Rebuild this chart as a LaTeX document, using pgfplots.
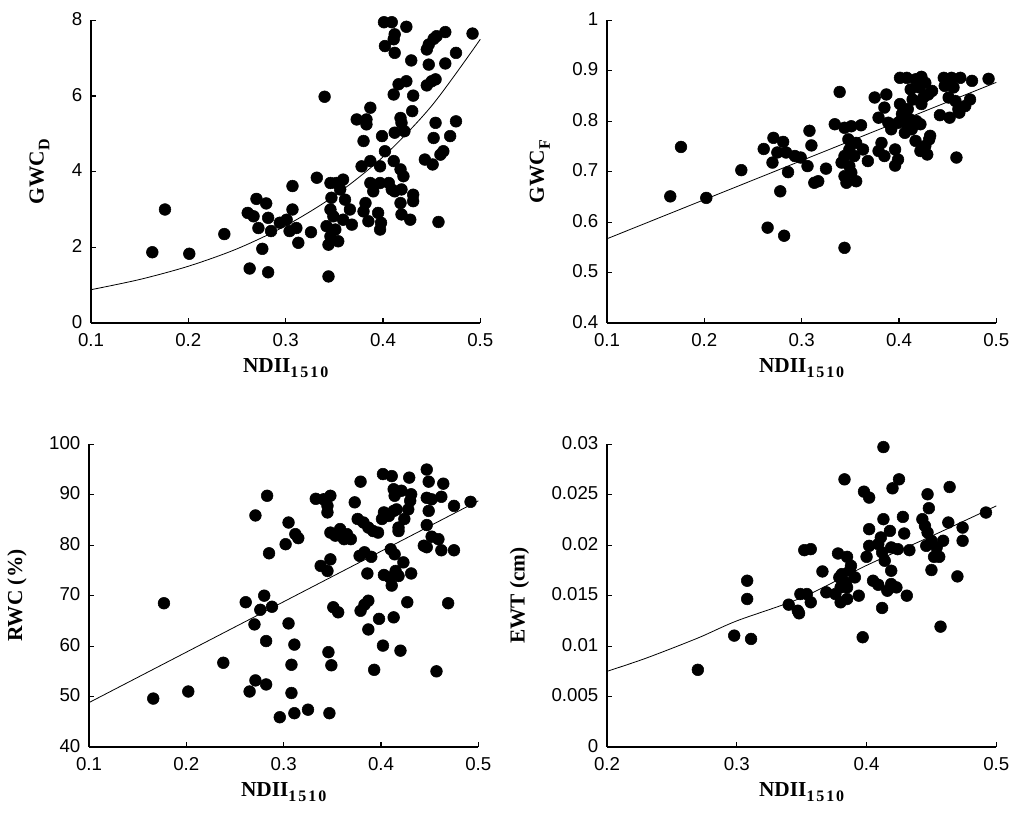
\documentclass[border=0pt]{standalone}
\usepackage{fontspec}
\setmainfont{Liberation Serif}
\setsansfont{Liberation Sans}
\usepackage{pgfplots}
\pgfplotsset{compat=1.18}

\newcommand{\sub}[1]{\raisebox{-0.6ex}{\fontsize{12}{12}\selectfont\bfseries\addfontfeature{LetterSpace=12}#1}}

\pgfplotsset{
  panel/.style={
    scale only axis, width=292pt, height=227pt,
    anchor=south west, clip=false,
    axis x line*=bottom, axis y line*=left,
    axis line style={-, line width=0.9pt},
    tick align=inside, major tick length=4pt,
    every tick/.style={black, line width=0.9pt},
    scaled ticks=false,
    ticklabel style={font=\sffamily\fontsize{14}{14}\selectfont},
    xticklabel style={yshift=-4pt},
    yticklabel style={xshift=-3pt, yshift=1pt},
    label style={font=\bfseries\fontsize{16}{16}\selectfont},
    xlabel={NDII\sub{1510}},
    xlabel style={yshift=-2pt},
    ylabel style={yshift=10pt},
  },
  dots/.style={only marks, mark=*, mark size=4.4pt, black},
  fit/.style={black, line width=0.6pt, smooth, no marks},
}

\begin{document}
\begin{tikzpicture}
\path[use as bounding box] (0,0) rectangle (768pt,625.5pt);

% GWC_D
\begin{axis}[panel, at={(68.25pt,383.25pt)},
  xmin=0.1, xmax=0.5, ymin=0, ymax=8,
  xtick={0.1,0.2,0.3,0.4,0.5}, xticklabels={0.1,0.2,0.3,0.4,0.5},
  ytick={0,2,4,6,8}, yticklabels={0,2,4,6,8},
  ylabel={GWC\sub{D}}]
\addplot[dots] coordinates {
(0.163,1.87) (0.176,3.00) (0.201,1.83) (0.237,2.35) (0.261,2.91) (0.263,1.44)
(0.270,3.28) (0.267,2.82) (0.272,2.51) (0.276,1.96) (0.280,3.16) (0.282,2.78)
(0.282,1.34) (0.285,2.43) (0.307,3.62) (0.307,3.00) (0.294,2.65) (0.301,2.73)
(0.304,2.43) (0.311,2.51) (0.313,2.12) (0.326,2.40) (0.332,3.84) (0.340,5.98)
(0.344,1.23) (0.346,3.70) (0.352,3.70) (0.359,3.79) (0.356,3.53) (0.347,3.31)
(0.361,3.26) (0.346,3.00) (0.349,2.82) (0.342,2.56) (0.351,2.47) (0.346,2.29)
(0.354,2.16) (0.344,2.07) (0.366,3.00) (0.368,2.60) (0.359,2.73) (0.373,5.38)
(0.383,5.38) (0.383,5.25) (0.387,5.69) (0.380,4.81) (0.378,4.14) (0.387,4.28)
(0.382,3.17) (0.380,2.95) (0.385,2.69) (0.387,3.70) (0.390,3.48) (0.395,2.91)
(0.398,2.65) (0.397,2.47) (0.397,4.14) (0.399,4.94) (0.402,4.54) (0.397,3.70)
(0.406,3.70) (0.409,3.53) (0.412,3.48) (0.419,3.53) (0.418,3.17) (0.419,2.87)
(0.428,2.73) (0.431,3.39) (0.431,3.22) (0.411,4.28) (0.418,4.06) (0.421,3.88)
(0.412,5.03) (0.422,5.07) (0.418,5.42) (0.419,5.29) (0.430,5.60) (0.431,6.01)
(0.411,6.04) (0.416,6.31) (0.424,6.39) (0.402,7.32) (0.412,7.14) (0.412,7.63)
(0.411,7.50) (0.401,7.95) (0.409,7.95) (0.424,7.83) (0.429,6.94) (0.445,7.23)
(0.447,7.36) (0.452,7.51) (0.455,7.58) (0.464,7.69) (0.447,6.83) (0.464,6.86)
(0.475,7.14) (0.492,7.65) (0.445,6.28) (0.450,6.39) (0.454,6.44) (0.454,5.29)
(0.452,4.89) (0.475,5.33) (0.469,4.94) (0.462,4.54) (0.459,4.45) (0.443,4.32)
(0.451,4.19) (0.457,2.67)
};
\addplot[fit] coordinates {
(0.10,0.88) (0.15,1.15) (0.20,1.50) (0.25,1.96) (0.30,2.57) (0.35,3.36)
(0.40,4.39) (0.45,5.74) (0.50,7.50)
};
\end{axis}

% GWC_F
\begin{axis}[panel, at={(455.25pt,383.25pt)},
  xmin=0.1, xmax=0.5, ymin=0.4, ymax=1,
  xtick={0.1,0.2,0.3,0.4,0.5}, xticklabels={0.1,0.2,0.3,0.4,0.5},
  ytick={0.4,0.5,0.6,0.7,0.8,0.9,1}, yticklabels={0.4,0.5,0.6,0.7,0.8,0.9,1},
  ylabel={GWC\sub{F}}]
\addplot[dots] coordinates {
(0.165,0.651) (0.176,0.749) (0.202,0.648) (0.238,0.703) (0.261,0.745) (0.265,0.589)
(0.271,0.767) (0.281,0.759) (0.270,0.718) (0.278,0.661) (0.282,0.573) (0.275,0.738)
(0.284,0.738) (0.286,0.699) (0.293,0.731) (0.299,0.728) (0.308,0.781) (0.310,0.752)
(0.306,0.711) (0.313,0.678) (0.317,0.681) (0.325,0.706) (0.334,0.794) (0.339,0.858)
(0.344,0.549) (0.344,0.787) (0.351,0.790) (0.361,0.792) (0.348,0.764) (0.356,0.757)
(0.349,0.744) (0.363,0.744) (0.344,0.731) (0.354,0.731) (0.368,0.721) (0.341,0.718)
(0.349,0.711) (0.351,0.698) (0.346,0.678) (0.356,0.681) (0.344,0.691) (0.375,0.847)
(0.387,0.853) (0.379,0.807) (0.385,0.827) (0.389,0.797) (0.382,0.757) (0.379,0.741)
(0.385,0.731) (0.396,0.744) (0.399,0.724) (0.396,0.712) (0.392,0.784) (0.399,0.797)
(0.401,0.834) (0.403,0.814) (0.408,0.794) (0.406,0.777) (0.413,0.784) (0.411,0.804)
(0.418,0.800) (0.422,0.794) (0.417,0.761) (0.427,0.751) (0.422,0.741) (0.429,0.734)
(0.432,0.771) (0.431,0.764) (0.401,0.886) (0.408,0.886) (0.417,0.883) (0.423,0.888)
(0.412,0.863) (0.421,0.867) (0.427,0.876) (0.434,0.860) (0.414,0.843) (0.425,0.847)
(0.430,0.853) (0.423,0.834) (0.409,0.824) (0.446,0.886) (0.454,0.886) (0.463,0.886)
(0.475,0.880) (0.492,0.884) (0.447,0.870) (0.456,0.867) (0.451,0.847) (0.458,0.840)
(0.473,0.843) (0.468,0.830) (0.461,0.824) (0.442,0.812) (0.452,0.807) (0.462,0.817)
(0.459,0.728)
};
\addplot[fit] coordinates {(0.1,0.567) (0.5,0.877)};
\end{axis}

% RWC
\begin{axis}[panel, at={(66.75pt,65.25pt)},
  xmin=0.1, xmax=0.5, ymin=40, ymax=100,
  xtick={0.1,0.2,0.3,0.4,0.5}, xticklabels={0.1,0.2,0.3,0.4,0.5},
  ytick={40,50,60,70,80,90,100}, yticklabels={40,50,60,70,80,90,100},
  ylabel={RWC (\%)}]
\addplot[dots] coordinates {
(0.166,49.6) (0.177,68.5) (0.202,51.0) (0.238,56.7) (0.261,68.7) (0.265,51.0)
(0.271,85.9) (0.271,53.2) (0.270,64.3) (0.276,67.2) (0.280,70.0) (0.282,61.0)
(0.282,52.4) (0.283,89.8) (0.285,78.4) (0.288,67.8) (0.296,45.9) (0.302,80.2)
(0.305,84.5) (0.312,82.2) (0.315,81.4) (0.305,64.5) (0.311,60.3) (0.308,56.3)
(0.308,50.7) (0.311,46.7) (0.325,47.4) (0.333,89.2) (0.341,89.1) (0.348,89.8)
(0.345,87.8) (0.345,86.5) (0.348,82.5) (0.353,81.9) (0.358,83.2) (0.362,81.2)
(0.369,81.2) (0.365,82.2) (0.338,75.9) (0.345,74.9) (0.348,77.2) (0.346,58.8)
(0.349,56.2) (0.347,46.7) (0.351,67.7) (0.356,66.7) (0.373,88.5) (0.379,92.6)
(0.376,85.2) (0.382,84.5) (0.387,83.5) (0.392,82.8) (0.397,82.5) (0.378,77.9)
(0.383,78.6) (0.390,77.7) (0.386,74.4) (0.379,67.0) (0.383,68.2) (0.387,69.0)
(0.387,63.3) (0.398,65.4) (0.393,55.3) (0.402,94.1) (0.411,93.7) (0.429,93.4)
(0.403,86.5) (0.401,85.2) (0.408,85.8) (0.413,86.8) (0.416,87.1) (0.418,83.5)
(0.418,82.8) (0.424,85.2) (0.413,91.1) (0.414,89.8) (0.421,90.8) (0.431,90.1)
(0.430,88.8) (0.428,87.1) (0.410,79.2) (0.414,78.2) (0.403,74.1) (0.409,73.6)
(0.411,72.0) (0.415,74.9) (0.418,73.9) (0.423,76.6) (0.431,74.4) (0.427,68.7)
(0.413,65.7) (0.402,60.1) (0.420,59.1) (0.447,95.0) (0.449,92.6) (0.464,92.2)
(0.447,89.4) (0.452,89.1) (0.462,89.6) (0.449,86.8) (0.475,87.8) (0.492,88.6)
(0.447,84.0) (0.452,81.7) (0.459,81.2) (0.444,79.9) (0.447,79.6) (0.462,79.0)
(0.475,79.0) (0.469,68.5) (0.457,55.0)
};
\addplot[fit] coordinates {(0.1,48.8) (0.5,88.8)};
\end{axis}

% EWT
\begin{axis}[panel, at={(455.25pt,65.25pt)},
  xmin=0.2, xmax=0.5, ymin=0, ymax=0.03,
  xtick={0.2,0.3,0.4,0.5}, xticklabels={0.2,0.3,0.4,0.5},
  ytick={0,0.005,0.01,0.015,0.02,0.025,0.03},
  yticklabels={0,0.005,0.01,0.015,0.02,0.025,0.03},
  ylabel={EWT (cm)}]
\addplot[dots] coordinates {
(0.270,0.00765) (0.298,0.01104) (0.308,0.01648) (0.308,0.01467) (0.311,0.01071)
(0.340,0.01411) (0.347,0.01351) (0.348,0.01325) (0.349,0.01516) (0.354,0.01516)
(0.357,0.01434) (0.352,0.01951) (0.357,0.01961) (0.366,0.01740) (0.369,0.01533)
(0.376,0.01516) (0.378,0.01918) (0.385,0.01885) (0.383,0.02653) (0.380,0.01434)
(0.385,0.01467) (0.394,0.01500) (0.379,0.01681) (0.381,0.01714) (0.384,0.01631)
(0.385,0.01582) (0.388,0.01796) (0.391,0.01681) (0.387,0.01747) (0.380,0.01582)
(0.397,0.01088) (0.398,0.02531) (0.402,0.02472) (0.400,0.01885) (0.402,0.02159)
(0.402,0.01994) (0.409,0.02011) (0.405,0.01648) (0.409,0.01608) (0.412,0.01378)
(0.413,0.02973) (0.413,0.02258) (0.411,0.02077) (0.412,0.01928) (0.414,0.01846)
(0.418,0.02142) (0.419,0.01978) (0.419,0.01747) (0.416,0.01549) (0.419,0.01615)
(0.423,0.01582) (0.420,0.02564) (0.425,0.02653) (0.428,0.02281) (0.429,0.02116)
(0.433,0.01951) (0.431,0.01500) (0.424,0.01961) (0.447,0.02505) (0.448,0.02367)
(0.443,0.02258) (0.445,0.02192) (0.447,0.02126) (0.450,0.02044) (0.446,0.01994)
(0.454,0.01978) (0.459,0.02044) (0.452,0.01885) (0.456,0.01885) (0.450,0.01754)
(0.457,0.01193) (0.464,0.02577) (0.463,0.02225) (0.474,0.02175) (0.474,0.02044)
(0.470,0.01691) (0.492,0.02324)
};
\addplot[fit] coordinates {
(0.20,0.0075) (0.23,0.0088) (0.27,0.0108) (0.30,0.0125) (0.35,0.0148)
(0.40,0.0180) (0.45,0.0209) (0.50,0.0239)
};
\end{axis}
\end{tikzpicture}
\end{document}
